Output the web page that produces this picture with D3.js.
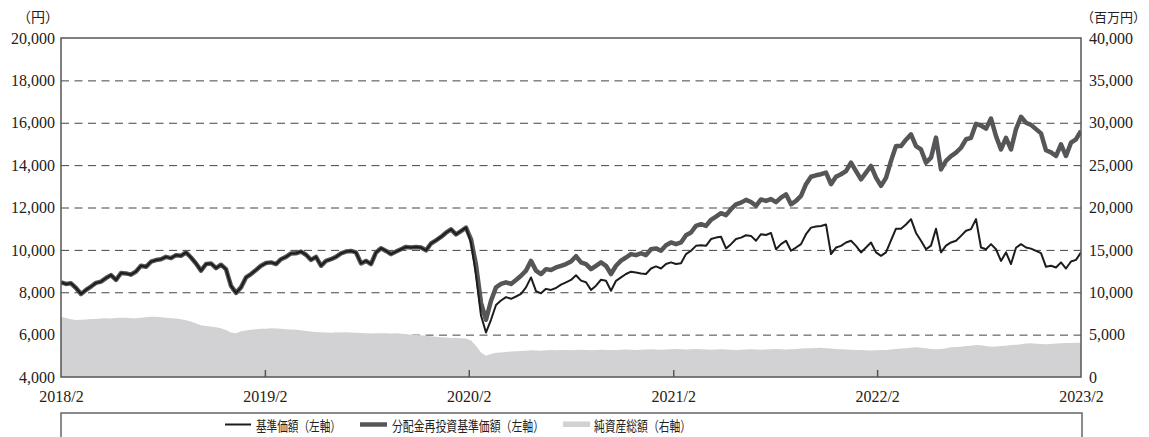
<!DOCTYPE html>
<html lang="ja">
<head>
<meta charset="utf-8">
<script src="https://cdn.jsdelivr.net/npm/d3@7"></script>
<style>
  html, body { margin: 0; padding: 0; background: #fff; }
  svg { display: block; }
</style>
</head>
<body>
<script>
// ---- data ---------------------------------------------------------------
// Sampling window: evenly spaced observations from 2018/2 to 2023/2
const periodStart = "2018-02-01";
const periodEnd = "2023-02-01";

// x-axis tick labels (first day of each February)
const yearTicks = ["2018-02-01", "2019-02-01", "2020-02-01", "2021-02-01", "2022-02-01", "2023-02-01"];

// left axis (円) and right axis (百万円) tick values
const leftTicks = [4000, 6000, 8000, 10000, 12000, 14000, 16000, 18000, 20000];
const rightTicks = [0, 5000, 10000, 15000, 20000, 25000, 30000, 35000, 40000];

// 基準価額 (円)
const navValues = [
  8470,8390,8420,8200,7920,8110,8270,8440,8500,8670,
  8810,8580,8910,8890,8830,8980,9250,9200,9440,9520,
  9560,9670,9610,9750,9720,9880,9640,9360,9020,9330,
  9360,9140,9300,9090,8300,7970,8230,8700,8860,9050,
  9250,9380,9410,9330,9560,9670,9830,9840,9920,9770,
  9530,9670,9250,9480,9560,
  9670,9830,9920,9950,9880,9360,9480,9330,9880,10080,
  9950,9800,9920,10030,10140,10110,10140,10110,9980,10300,
  10450,10610,10810,10970,10730,10890,11050,
  10350,8800,6900,6100,6700,7400,7610,7770,7690,
  7800,7920,8230,8700,8050,7950,8160,8110,8200,8360,
  8470,8580,8800,8550,8470,8110,8310,8590,8540,8070,
  8540,8700,8860,8970,8930,8890,8860,9120,9220,9120,
  9330,9410,9330,9370,9800,9960,10190,10220,10190,10510,
  10580,10620,10070,10270,10510,10580,10690,10660,10430,10740,
  10700,10800,10030,10270,10430,9960,10110,10270,10740,11050,
  11100,11130,11200,9800,10110,10190,10350,10430,10190,9880,
  10110,10350,9880,9720,9880,10450,11000,11000,11200,11450,
  10800,10430,10030,10200,11000,9880,10200,10350,10430,10660,
  10900,10980,11450,10110,10030,10270,10030,9480,9880,9330,
  10100,10270,10110,10060,9950,9850,9200,9250,9170,9410,
  9120,9450,9530,9880
];

// 分配金再投資基準価額 (円)
const reinvestValues = [
  8470,8390,8420,8200,7920,8110,8270,8440,8500,8670,
  8810,8580,8910,8890,8830,8980,9250,9200,9440,9520,
  9560,9670,9610,9750,9720,9880,9640,9360,9020,9330,
  9360,9140,9300,9090,8300,7970,8230,8700,8860,9050,
  9250,9380,9410,9330,9560,9670,9830,9840,9920,9770,
  9530,9670,9250,9480,9560,
  9670,9830,9920,9950,9880,9360,9480,9330,9880,10080,
  9950,9800,9920,10030,10140,10110,10140,10110,9980,10300,
  10450,10610,10810,10970,10730,10890,11050,
  10500,9300,7500,6700,7600,8230,8390,8470,8390,
  8580,8780,9020,9480,9020,8860,9090,9050,9170,9250,
  9330,9450,9700,9410,9330,9090,9250,9410,9250,8860,
  9250,9490,9640,9800,9750,9840,9750,10030,10070,9960,
  10220,10350,10270,10350,10690,10820,11130,11210,11130,11420,
  11570,11730,11640,11920,12150,12230,12360,12260,12080,12380,
  12310,12400,12250,12470,12620,12150,12310,12550,13100,13450,
  13520,13570,13650,13100,13450,13570,13720,14120,13720,13330,
  13650,13960,13410,13020,13400,14200,14900,14900,15200,15450,
  14900,14740,14120,14350,15300,13800,14200,14430,14590,14820,
  15220,15290,15950,15870,15720,16200,15370,14740,15290,14740,
  15700,16280,16000,15900,15700,15500,14700,14600,14430,14980,
  14430,15060,15220,15610
];

// 純資産総額 (百万円)
const netAssetValues = [
  7100,6950,6800,6720,6750,6780,6840,6850,6900,6920,
  6900,6950,7000,6980,6940,6920,6980,7050,7100,7120,
  7050,6980,6920,6900,6800,6700,6550,6300,6100,6020,
  5950,5880,5740,5550,5250,5150,5400,5500,5580,5630,
  5680,5700,5740,5720,5690,5630,5600,5580,5520,5430,
  5380,5320,5270,5250,5230,
  5270,5250,5280,5260,5230,5180,5150,5120,5160,5170,
  5150,5130,5150,5100,5060,5000,4960,4920,4880,4820,
  4760,4700,4650,4600,4620,4580,4550,
  4300,3700,2900,2500,2700,2850,2900,2950,3000,
  3050,3080,3100,3150,3120,3100,3150,3180,3150,3200,
  3180,3150,3200,3220,3180,3150,3200,3220,3200,3180,
  3200,3230,3250,3220,3200,3230,3250,3270,3250,3230,
  3250,3270,3300,3270,3250,3270,3300,3280,3250,3230,
  3250,3270,3250,3220,3200,3230,3250,3270,3250,3230,
  3250,3270,3300,3280,3250,3270,3300,3350,3380,3400,
  3420,3450,3400,3350,3300,3270,3250,3220,3200,3180,
  3150,3130,3150,3180,3200,3250,3300,3350,3400,3450,
  3500,3450,3380,3300,3280,3300,3400,3500,3550,3580,
  3650,3700,3780,3750,3650,3580,3600,3650,3700,3780,
  3800,3850,3950,3970,3920,3880,3860,3900,3950,3970,
  4000,4020,4050,4050
];

// legend entries
const legendLabels = ["基準価額（左軸）", "分配金再投資基準価額（左軸）", "純資産総額（右軸）"];
const unitLeft = "（円）";
const unitRight = "（百万円）";

// ---- layout -------------------------------------------------------------
const W = 1149, H = 437;
const plot = { left: 61, right: 1081, top: 38, bottom: 377 };
const numFont = "'Liberation Serif', 'DejaVu Serif', serif";
const jpFont = "'Noto Sans CJK JP', 'Noto Sans', sans-serif";

const parse = d3.utcParse("%Y-%m-%d");
const t0 = parse(periodStart), t1 = parse(periodEnd);
const n = Math.min(navValues.length, reinvestValues.length, netAssetValues.length);
const dates = d3.range(n).map(i => new Date(+t0 + (t1 - t0) * i / (n - 1)));

const x = d3.scaleUtc().domain([t0, t1]).range([plot.left, plot.right]);
const yL = d3.scaleLinear().domain([4000, 20000]).range([plot.bottom, plot.top]);
const yR = d3.scaleLinear().domain([0, 40000]).range([plot.bottom, plot.top]);

const svg = d3.select("body").append("svg").attr("width", W).attr("height", H);

svg.append("defs").append("clipPath").attr("id", "plot-clip")
  .append("rect")
  .attr("x", plot.left).attr("y", plot.top)
  .attr("width", plot.right - plot.left).attr("height", plot.bottom - plot.top);

// dashed horizontal grid
const grid = svg.append("g")
  .attr("transform", `translate(${plot.left},0)`)
  .call(d3.axisLeft(yL).tickValues(leftTicks.filter(v => v > 4000 && v < 20000))
    .tickSize(-(plot.right - plot.left)).tickFormat(""));
grid.select(".domain").remove();
grid.selectAll("line").attr("stroke", "#444").attr("stroke-width", 1).attr("stroke-dasharray", "8,5.5");

// 純資産総額 area (right axis)
svg.append("path")
  .datum(d3.range(n))
  .attr("clip-path", "url(#plot-clip)")
  .attr("fill", "#d2d2d4")
  .attr("d", d3.area().x(i => x(dates[i])).y0(plot.bottom).y1(i => yR(netAssetValues[i])));

// year tick marks along the bottom edge
const tickG = svg.append("g")
  .attr("transform", `translate(0,${plot.bottom})`)
  .call(d3.axisBottom(x).tickValues(yearTicks.slice(1, -1).map(parse)).tickSize(-7).tickFormat(""));
tickG.select(".domain").remove();
tickG.selectAll("line").attr("stroke", "#555").attr("stroke-width", 1.5);

// 分配金再投資基準価額 (thick grey)
svg.append("path")
  .datum(d3.range(n))
  .attr("clip-path", "url(#plot-clip)")
  .attr("fill", "none")
  .attr("stroke", "#555658")
  .attr("stroke-width", 4.5)
  .attr("stroke-linejoin", "round")
  .attr("d", d3.line().x(i => x(dates[i])).y(i => yL(reinvestValues[i])));

// 基準価額 (thin black)
svg.append("path")
  .datum(d3.range(n))
  .attr("clip-path", "url(#plot-clip)")
  .attr("fill", "none")
  .attr("stroke", "#1c1c1c")
  .attr("stroke-width", 2)
  .attr("stroke-linejoin", "round")
  .attr("d", d3.line().x(i => x(dates[i])).y(i => yL(navValues[i])));

// plot frame
svg.append("rect")
  .attr("x", plot.left).attr("y", plot.top)
  .attr("width", plot.right - plot.left).attr("height", plot.bottom - plot.top)
  .attr("fill", "none").attr("stroke", "#555").attr("stroke-width", 1.5);

// left axis labels
const axL = svg.append("g")
  .attr("transform", `translate(${plot.left},0)`)
  .call(d3.axisLeft(yL).tickValues(leftTicks).tickSize(0).tickPadding(6).tickFormat(d3.format(",")));
axL.select(".domain").remove();
axL.selectAll("text").attr("font-family", numFont).attr("font-size", 16).attr("fill", "#222");

// right axis labels
const axR = svg.append("g")
  .attr("transform", `translate(${plot.right},0)`)
  .call(d3.axisRight(yR).tickValues(rightTicks).tickSize(0).tickPadding(8).tickFormat(d3.format(",")));
axR.select(".domain").remove();
axR.selectAll("text").attr("font-family", numFont).attr("font-size", 16).attr("fill", "#222");

// bottom axis labels
const axB = svg.append("g")
  .attr("transform", `translate(0,${plot.bottom})`)
  .call(d3.axisBottom(x).tickValues(yearTicks.map(parse)).tickSize(0).tickPadding(13.5)
    .tickFormat(d3.utcFormat("%Y/%-m")));
axB.select(".domain").remove();
axB.selectAll("text").attr("font-family", numFont).attr("font-size", 16).attr("fill", "#222");

// units
svg.append("text").attr("x", 17).attr("y", 22)
  .attr("font-family", jpFont).attr("font-size", 14).attr("fill", "#222").text(unitLeft);
svg.append("text").attr("x", 1081).attr("y", 22)
  .attr("font-family", jpFont).attr("font-size", 13).attr("fill", "#222").text(unitRight);

// legend box (open at the bottom)
svg.append("path")
  .attr("d", `M${plot.left},${H + 2}V413H1082V${H + 2}`)
  .attr("fill", "none").attr("stroke", "#666").attr("stroke-width", 1.5);

const legendItems = [
  { label: legendLabels[0], sx: 225, sw: 26, tx: 256, tw: 85, kind: "thin" },
  { label: legendLabels[1], sx: 360, sw: 27, tx: 392, tw: 152, kind: "thick" },
  { label: legendLabels[2], sx: 563, sw: 27, tx: 594, tw: 97, kind: "area" }
];
const lg = svg.append("g");
legendItems.forEach(d => {
  if (d.kind === "area") {
    lg.append("rect").attr("x", d.sx).attr("y", 421.5).attr("width", d.sw).attr("height", 5.5).attr("fill", "#d2d2d4");
  } else {
    lg.append("line").attr("x1", d.sx).attr("x2", d.sx + d.sw).attr("y1", 424.5).attr("y2", 424.5)
      .attr("stroke", d.kind === "thin" ? "#1c1c1c" : "#555658")
      .attr("stroke-width", d.kind === "thin" ? 2 : 4.5);
  }
  lg.append("text").attr("x", d.tx).attr("y", 430.5)
    .attr("font-family", jpFont).attr("font-size", 14).attr("fill", "#222")
    .attr("textLength", d.tw).attr("lengthAdjust", "spacingAndGlyphs")
    .text(d.label);
});
</script>
</body>
</html>
